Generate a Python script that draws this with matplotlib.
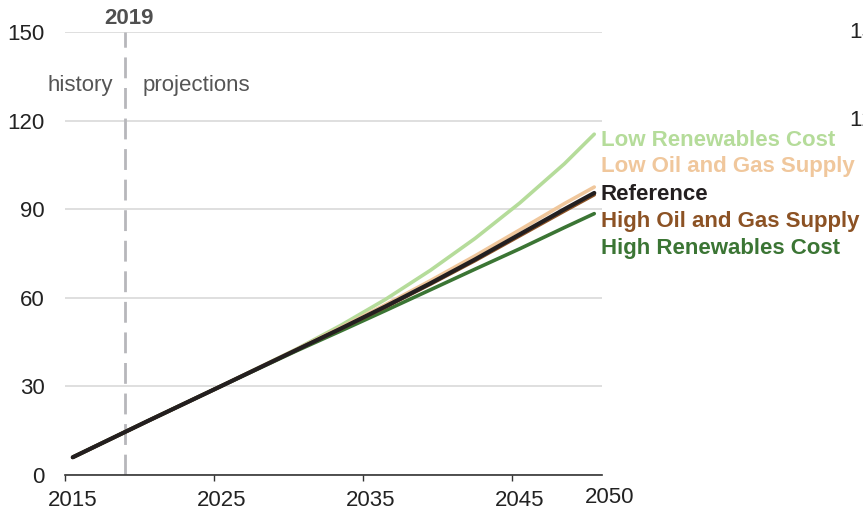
import matplotlib
matplotlib.use("Agg")
import matplotlib.pyplot as plt
import matplotlib.transforms as mtransforms

plt.rcParams['font.family'] = ['Liberation Sans', 'DejaVu Sans']

# data years (values plotted at mid-year)
years = [2015, 2020, 2025, 2030, 2033, 2036, 2039, 2042, 2045, 2048, 2050]
low_renew = [6, 18.2, 30.2, 42.6, 50.7, 59.5, 69.3, 80.1, 92.1, 105.4, 115.4]
low_oilgas = [6, 18.2, 30.2, 42.5, 50.0, 57.7, 65.8, 74.2, 83.0, 91.9, 97.5]
reference = [6, 18.2, 30.2, 42.3, 49.6, 57.1, 64.9, 73.0, 81.5, 90.0, 95.5]
high_oilgas = [6, 18.2, 30.2, 42.3, 49.5, 56.9, 64.6, 72.6, 81.0, 89.4, 94.9]
high_renew = [6, 18.2, 30.2, 42.0, 48.8, 55.7, 62.7, 69.7, 76.6, 83.8, 88.5]

series = [
    ("Low Renewables Cost", low_renew, "#b5dc9a", 113.4),
    ("Low Oil and Gas Supply", low_oilgas, "#f0c79c", 104.3),
    ("High Renewables Cost", high_renew, "#3b7534", 76.8),
    ("High Oil and Gas Supply", high_oilgas, "#8c5224", 86.0),
    ("Reference", reference, "#231f20", 95.1),
]

tick_years = [2015, 2025, 2035, 2045, 2051]
tick_labels = ["2015", "2025", "2035", "2045", "2050"]
yticks = [0, 30, 60, 90, 120, 150]

fig = plt.figure(figsize=(8.63, 5.12), dpi=100)
ax = fig.add_axes([65.3/863, 1-475/512, 536.4/863, (475-32)/512])

xs = [y + 0.5 for y in years]
for name, vals, col, ly in series:
    lw = 3.0 if name == "Reference" else 2.6
    ax.plot(xs, vals, color=col, lw=lw, solid_capstyle='round', zorder=3)
    ax.text(2050.95, ly, name, color=col, fontsize=16, fontweight='bold',
            va='center', ha='left', clip_on=False)

ax.set_xlim(2015, 2051)
ax.set_ylim(0, 150)
ax.set_yticks(yticks)
ax.set_yticklabels([str(t) for t in yticks])

# tick marks at year boundaries, labels centred on the year
ax.set_xticks(tick_years, minor=True)
ax.set_xticks([t + 0.5 for t in tick_years[:-1]] + [tick_years[-1]])
ax.set_xticklabels(tick_labels)
ax.tick_params(axis='x', which='minor', length=4.5, width=1, color='#333333')
ax.tick_params(axis='x', which='major', length=0, pad=10.5,
               labelsize=16, labelcolor='#222222')
lbl = ax.get_xticklabels()[-1]
lbl.set_transform(lbl.get_transform() +
                  mtransforms.ScaledTranslation(8/100, 3/100, fig.dpi_scale_trans))

ax.grid(axis='y', color='#d9d9d9', lw=1.2)
ax.set_axisbelow(True)
for s in ['top', 'right', 'left']:
    ax.spines[s].set_visible(False)
ax.spines['bottom'].set_color('#333333')
ax.spines['bottom'].set_linewidth(1.2)
ax.spines['bottom'].set_zorder(4)
ax.tick_params(axis='y', length=0, pad=14.8, labelsize=16, labelcolor='#222222')

ax.axvline(2019, color='#b7b7bb', lw=2, dashes=(7.5, 3.5), zorder=2)
ax.text(2019.27, 151, "2019", ha='center', va='bottom', fontsize=16,
        fontweight='bold', color='#505050', clip_on=False)
ax.text(2018.2, 132, "history", ha='right', va='center', fontsize=16, color='#555555')
ax.text(2020.2, 132, "projections", ha='left', va='center', fontsize=16, color='#555555')

fig.text(849/863, 1-32/512, "150", ha='left', va='center', fontsize=16, color='#222222')
fig.text(849/863, 1-120/512, "120", ha='left', va='center', fontsize=16, color='#222222')

fig.savefig("out.png", dpi=100)
